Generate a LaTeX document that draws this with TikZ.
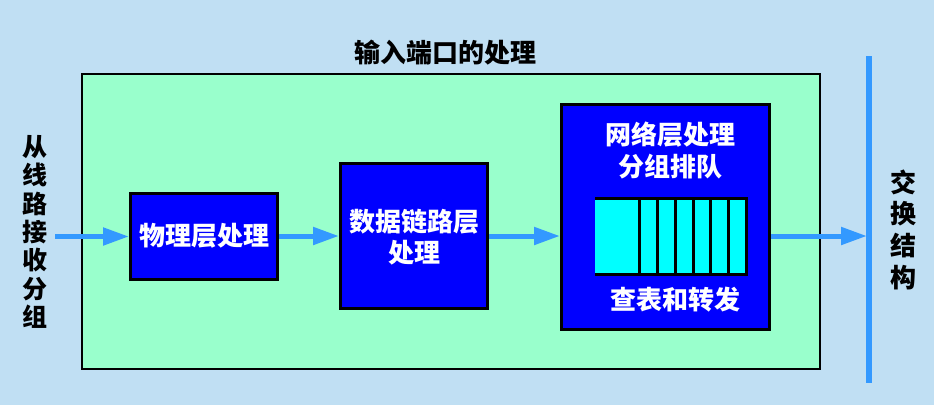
\documentclass[tikz,border=0pt]{standalone}
\usepackage{fontspec}
\newfontfamily\cjk{Noto Sans CJK SC}
\usetikzlibrary{arrows.meta,calc}
\definecolor{bgblue}{RGB}{192,223,243}
\definecolor{pgreen}{RGB}{153,255,204}
\definecolor{arrblue}{RGB}{51,153,255}
\definecolor{qcyan}{RGB}{0,255,255}
\tikzset{
  procbox/.style={draw=black, line width=3pt, fill=blue, inner sep=0pt},
  wtext/.style={text=white, font=\cjk\bfseries\fontsize{26}{31}\selectfont, align=center, inner sep=0pt},
  ktext/.style={text=black, font=\cjk\bfseries\fontsize{26}{31}\selectfont, align=center, inner sep=0pt},
  flow/.style={draw=arrblue, line width=5pt, -{Triangle[length=26pt,width=17pt]}},
  qline/.style={draw=black, line width=3pt},
}
\begin{document}
\begin{tikzpicture}[x=1pt,y=-1pt]
\fill[bgblue] (0,0) rectangle (934,405);
\useasboundingbox (0,0) rectangle (934,405);
% outer green frame
\node[draw=black, line width=2pt, fill=pgreen, minimum width=738pt, minimum height=295pt, inner sep=0pt] (frame) at (451,221.5) {};
\node[ktext] (title) at (445,53) {输入端口的处理};
% left and right labels
\node[ktext, font=\cjk\bfseries\fontsize{25}{28.3}\selectfont] (src) at (35,232) {从\\线\\路\\接\\收\\分\\组};
\node[ktext, font=\cjk\bfseries\fontsize{26}{31.7}\selectfont] (sw) at (903,229.5) {交\\换\\结\\构};
% switch fabric line
\coordinate (vtop) at (869,56);
\coordinate (vbot) at (869,383);
\draw[arrblue, line width=6pt] (vtop) -- (vbot);
% boxes
\node[procbox, minimum width=147pt, minimum height=86pt] (b1) at (204,236.5) {};
\node[wtext] (b1t) at (204,236) {物理层处理};
\node[procbox, minimum width=147pt, minimum height=145pt] (b2) at (414,236) {};
\node[wtext] (b2t) at (414,237) {数据链路层\\处理};
\node[procbox, minimum width=208pt, minimum height=225pt] (b3) at (665.5,217) {};
\node[wtext, font=\cjk\bfseries\fontsize{26}{32}\selectfont] (b3t) at (670,150) {网络层处理\\分组排队};
\node[wtext] (b3b) at (675,300) {查表和转发};
% queue
\coordinate (q1) at (595,198);
\coordinate (q2) at (746,274);
\fill[qcyan] (q1) rectangle (q2);
\draw[qline] (q1) -- (q1 -| q2) -- (q2) -- (q1 |- q2);
\foreach \xx in {639,657,675,693,710,728} {
  \draw[qline] (\xx,198) -- (\xx,274);
}
% arrows
\coordinate (in) at (55,236.5);
\coordinate (hit) at (867,236);
\draw[flow] (in) -- (b1.west |- in);
\draw[flow] (b1.east |- b2) -- (b2.west);
\draw[flow] (b2.east) -- (b3.west |- b2);
\draw[flow] (b3.east |- hit) -- (hit);
\end{tikzpicture}
\end{document}
